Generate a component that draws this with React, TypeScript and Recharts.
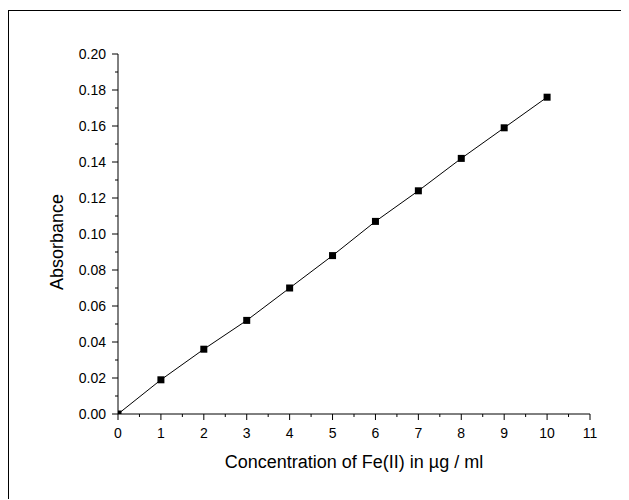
import { Label, Line, LineChart, XAxis, YAxis } from "recharts";

const concentration = [0, 1, 2, 3, 4, 5, 6, 7, 8, 9, 10];
const absorbance = [0, 0.019, 0.036, 0.052, 0.07, 0.088, 0.107, 0.124, 0.142, 0.159, 0.176];

const xTicks = [0, 0.5, 1, 1.5, 2, 2.5, 3, 3.5, 4, 4.5, 5, 5.5, 6, 6.5, 7, 7.5, 8, 8.5, 9, 9.5, 10, 10.5, 11];
const yTicks = [
  0, 0.01, 0.02, 0.03, 0.04, 0.05, 0.06, 0.07, 0.08, 0.09, 0.1, 0.11, 0.12, 0.13, 0.14, 0.15, 0.16, 0.17, 0.18,
  0.19, 0.2,
];

const data = concentration.map((c, i) => ({ c, a: absorbance[i] }));

const FONT = "'Liberation Sans', Arial, sans-serif";

function XTick({ x, y, payload }: any) {
  const v = payload.value as number;
  const major = Number.isInteger(v);
  return (
    <g>
      <line x1={x} x2={x} y1={y} y2={y + (major ? 6 : 3)} stroke="#000" strokeWidth={1} />
      {major && (
        <text x={x} y={y + 24} textAnchor="middle" fontSize={14} fontFamily={FONT} fill="#000">
          {v}
        </text>
      )}
    </g>
  );
}

function YTick({ x, y, payload }: any) {
  const v = payload.value as number;
  const major = Math.round(v * 100) % 2 === 0;
  return (
    <g>
      <line x1={x - (major ? 6 : 3)} x2={x} y1={y} y2={y} stroke="#000" strokeWidth={1} />
      {major && (
        <text x={x - 12} y={y + 5} textAnchor="end" fontSize={14} fontFamily={FONT} fill="#000">
          {v.toFixed(2)}
        </text>
      )}
    </g>
  );
}

function Dot({ cx, cy }: any) {
  return <rect x={cx - 3.5} y={cy - 3.5} width={7} height={7} fill="#000" />;
}

export default function App() {
  return (
    <div
      style={{
        position: "relative",
        top: 2,
        width: 621,
        height: 490,
        borderTop: "1px solid #000",
        borderLeft: "1px solid #000",
        background: "#fff",
      }}
    >
      <LineChart
        width={620}
        height={489}
        data={data}
        margin={{ top: 43, right: 39, bottom: 0, left: 0 }}
        style={{ fontFamily: FONT }}
      >
        <XAxis
          dataKey="c"
          type="number"
          domain={[0, 11]}
          ticks={xTicks}
          interval={0}
          allowDataOverflow
          height={86}
          tickSize={0}
          tickMargin={0}
          tickLine={false}
          tick={<XTick />}
          axisLine={{ stroke: "#000", strokeWidth: 1 }}
        >
          <Label
            value="Concentration of Fe(II) in µg / ml"
            position="insideBottom"
            offset={32}
            fontSize={18}
            fill="#000"
          />
        </XAxis>
        <YAxis
          type="number"
          domain={[0, 0.2]}
          ticks={yTicks}
          interval={0}
          allowDataOverflow
          width={109}
          tickSize={0}
          tickMargin={0}
          tickLine={false}
          tick={<YTick />}
          axisLine={{ stroke: "#000", strokeWidth: 1 }}
        >
          <Label
            value="Absorbance"
            angle={-90}
            position="insideLeft"
            offset={48}
            dy={8}
            fontSize={18}
            fill="#000"
            style={{ textAnchor: "middle" }}
          />
        </YAxis>
        <Line
          dataKey="a"
          type="linear"
          stroke="#000"
          strokeWidth={1}
          dot={<Dot />}
          activeDot={false}
          isAnimationActive={false}
        />
      </LineChart>
    </div>
  );
}
